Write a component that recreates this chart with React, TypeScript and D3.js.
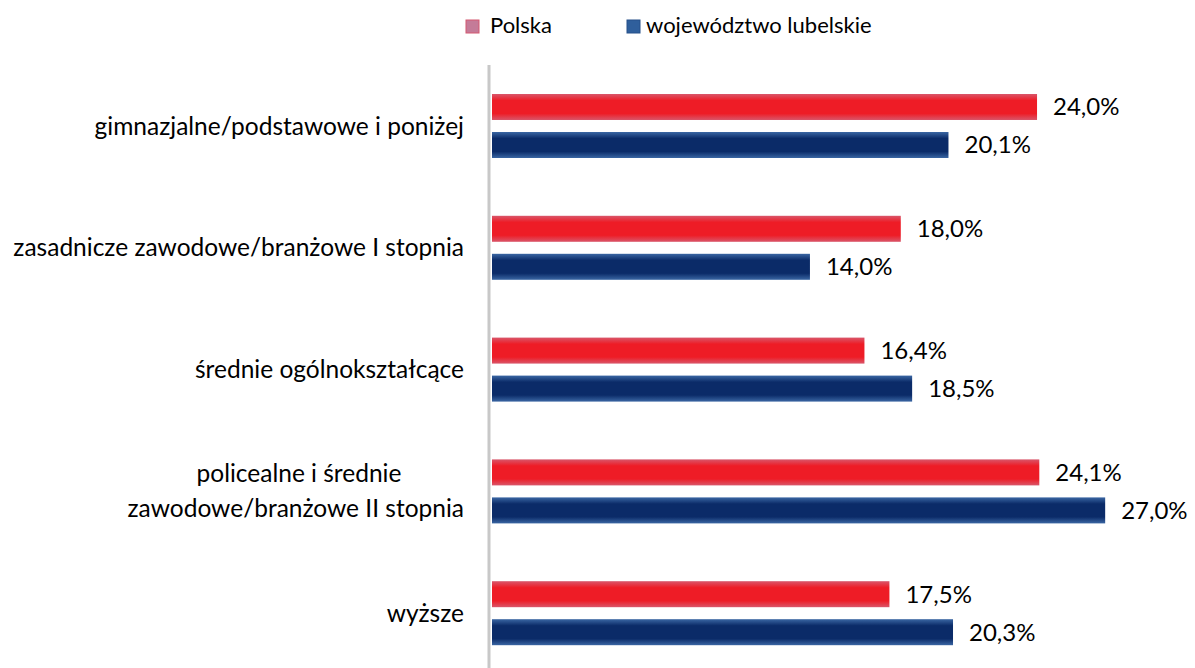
import React from "react";
import * as d3 from "d3";

const categories: string[][] = [
  ["gimnazjalne/podstawowe i poniżej"],
  ["zasadnicze zawodowe/branżowe I stopnia"],
  ["średnie ogólnokształcące"],
  ["policealne i średnie", "zawodowe/branżowe II stopnia"],
  ["wyższe"],
];
const seriesNames = ["Polska", "województwo lubelskie"];
const polska = [24.0, 18.0, 16.4, 24.1, 17.5];
const lubelskie = [20.1, 14.0, 18.5, 27.0, 20.3];

const W = 1195;
const H = 668;
const FONT = "Lato, 'Open Sans', sans-serif";

export default function App() {
  const x = d3.scaleLinear().domain([0, 1]).range([492, 492 + 22.71]);
  const y = d3.scaleBand<number>().domain(d3.range(categories.length)).range([65, 674]).paddingInner(0);
  const inner = d3.scaleBand<number>().domain([0, 1]).range([29, 93]).paddingInner(0.316);
  const series = [polska, lubelskie];
  const fmt = (v: number) => v.toFixed(1).replace(".", ",") + "%";

  return (
    <svg width={W} height={H} style={{ position: "absolute", left: 0, top: 0 }} fontFamily={FONT}>
      <defs>
        <linearGradient id="gRed" x1="0" y1="0" x2="0" y2="1">
          <stop offset="0" stopColor="#d9566a" />
          <stop offset="0.25" stopColor="#ee1c26" />
          <stop offset="0.75" stopColor="#ee1c26" />
          <stop offset="1" stopColor="#d9566a" />
        </linearGradient>
        <linearGradient id="gBlue" x1="0" y1="0" x2="0" y2="1">
          <stop offset="0" stopColor="#3a66a3" />
          <stop offset="0.25" stopColor="#0b2b68" />
          <stop offset="0.75" stopColor="#0b2b68" />
          <stop offset="1" stopColor="#3a66a3" />
        </linearGradient>
      </defs>
      <rect width={W} height={H} fill="#fff" />
      {/* legend */}
      <rect x={466} y={20} width={13} height={13} fill="#c47b98" stroke="#d45870" strokeWidth={1} />
      <text x={490} y={33} fontSize={22} fill="#000">{seriesNames[0]}</text>
      <rect x={627} y={20} width={13} height={13} fill="#2f5f9c" stroke="#26508a" strokeWidth={1} />
      <text x={646} y={33} fontSize={22} fill="#000">{seriesNames[1]}</text>
      {/* axis */}
      <line x1={489} x2={489} y1={65} y2={H} stroke="#c8c8c8" strokeWidth={3} />
      {categories.map((lines, i) => {
        const y0 = y(i)!;
        const cy = y0 + inner(0)! + (inner(1)! + inner.bandwidth() - inner(0)!) / 2;
        return (
          <g key={i}>
            {series.map((s, j) => {
              const by = y0 + inner(j)!;
              return (
                <g key={j}>
                  <rect
                    x={x(0)}
                    y={by}
                    width={x(s[i]) - x(0)}
                    height={inner.bandwidth()}
                    fill={j === 0 ? "url(#gRed)" : "url(#gBlue)"}
                  />
                  <text
                    x={x(s[i]) + 16}
                    y={by + inner.bandwidth() / 2}
                    dy="0.35em"
                    fontSize={24}
                    fill="#000"
                  >
                    {fmt(s[i])}
                  </text>
                </g>
              );
            })}
            {lines.length === 1 ? (
              <text x={464} y={cy} dy="0.35em" textAnchor="end" fontSize={24.5} fill="#000">
                {lines[0]}
              </text>
            ) : (
              lines.map((l, k) => (
                <text
                  key={k}
                  x={k === lines.length - 1 ? 464 : 299}
                  y={cy + (k - (lines.length - 1) / 2) * 35}
                  dy="0.35em"
                  textAnchor={k === lines.length - 1 ? "end" : "middle"}
                  fontSize={24.5}
                  fill="#000"
                >
                  {l}
                </text>
              ))
            )}
          </g>
        );
      })}
    </svg>
  );
}
